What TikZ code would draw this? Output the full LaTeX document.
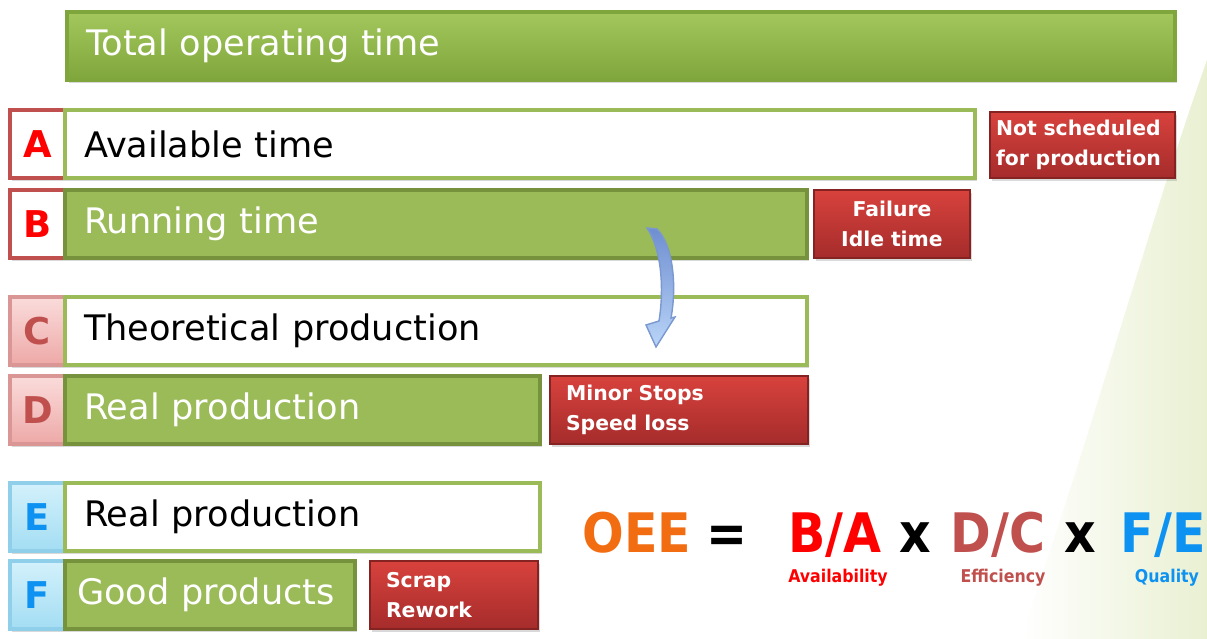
\documentclass[tikz,border=0pt]{standalone}
\usepackage{fontspec}
\setmainfont{DejaVu Sans}
\newfontfamily\condfont{DejaVu Sans Condensed}
\usetikzlibrary{shadows}

\definecolor{barGreen}{HTML}{9BBB59}
\definecolor{barEdge}{HTML}{76923C}
\definecolor{topGreenA}{HTML}{A3C75C}
\definecolor{topGreenB}{HTML}{7FA63C}
\definecolor{boxRed}{HTML}{C0504D}
\definecolor{redTop}{HTML}{D8423D}
\definecolor{redBot}{HTML}{A52C2B}
\definecolor{letRed}{HTML}{FF0000}
\definecolor{pinkTop}{HTML}{FADCDB}
\definecolor{pinkBot}{HTML}{EDA9A7}
\definecolor{cyanTop}{HTML}{D3F1FB}
\definecolor{cyanBot}{HTML}{A3DDF3}
\definecolor{cyanEdge}{HTML}{8FCFEA}
\definecolor{letBlue}{HTML}{0E92F2}
\definecolor{oeeOrange}{HTML}{F26D12}
\definecolor{arrTop}{HTML}{6F8ED0}
\definecolor{arrBot}{HTML}{B9D5F8}
\definecolor{arrEdge}{HTML}{7B98D0}
\definecolor{bgTint}{HTML}{E9F0D2}

\begin{document}
\begin{tikzpicture}[
  shad/.style={drop shadow={opacity=0.3, shadow xshift=0.5pt, shadow yshift=-0.9pt}},
  letbox/.style={shad, draw, line width=1.1pt, minimum width=0.55cm, minimum height=0.68cm,
    inner sep=0pt, outer sep=0pt, anchor=north west, font=\bfseries\fontsize{10.5}{12}\selectfont},
  wbar/.style={shad, draw=barGreen, line width=1.2pt, fill=white, minimum height=0.68cm,
    inner xsep=0.19cm, inner ysep=0pt, outer sep=0pt, anchor=north west, align=left,
    font=\fontsize{10}{12}\selectfont},
  gbar/.style={wbar, draw=barEdge, fill=barGreen, text=white},
  redbox/.style={shad, top color=redTop, bottom color=redBot, draw=redBot!80!black, line width=0.3pt,
    minimum height=0.68cm, inner xsep=0.16cm, inner ysep=0pt, outer sep=0pt, anchor=north west,
    text=white, font=\bfseries\fontsize{5.8}{8.4}\selectfont, align=left},
  big/.style={anchor=base, font=\condfont\bfseries\fontsize{15.5}{18}\selectfont},
  small/.style={anchor=base, font=\condfont\bfseries\fontsize{5}{6}\selectfont}
]
  \useasboundingbox (0,0) rectangle (12.07,-6.39);
  \shade[left color=white, right color=bgTint] (10.2,-6.39) .. controls (10.9,-4.4) and (11.5,-2.2) .. (12.07,-0.6) -- (12.07,-6.39) -- cycle;

  \node[gbar, top color=topGreenA, bottom color=topGreenB, draw=topGreenB, text width=10.70cm] (tot) at (0.67,-0.12) {Total operating time};

  \node[letbox, draw=boxRed, fill=white, text=letRed] (la) at (0.10,-1.10) {A};
  \node[wbar, text width=8.72cm] (ba) at (0.65,-1.10) {Available time};
  \node[redbox, text width=1.73cm, inner xsep=0.06cm, minimum height=0.66cm] (ns) at (9.90,-1.12) {Not scheduled\\for production};

  \node[letbox, draw=boxRed, fill=white, text=letRed] (lb) at (0.10,-1.90) {B};
  \node[gbar, text width=7.04cm] (bb) at (0.65,-1.90) {Running time};
  \node[redbox, text width=1.44cm, inner xsep=0.06cm, align=center] (fi) at (8.14,-1.90) {Failure\\Idle time};

  \node[letbox, draw=boxRed!60, top color=pinkTop, bottom color=pinkBot, text=boxRed] (lc) at (0.10,-2.97) {C};
  \node[wbar, text width=7.04cm] (bc) at (0.65,-2.97) {Theoretical production};

  \node[letbox, draw=boxRed!60, top color=pinkTop, bottom color=pinkBot, text=boxRed] (ld) at (0.10,-3.76) {D};
  \node[gbar, text width=4.37cm] (bd) at (0.65,-3.76) {Real production};
  \node[redbox, text width=2.26cm] (ms) at (5.50,-3.76) {Minor Stops\\Speed loss};

  \node[letbox, draw=cyanEdge, top color=cyanTop, bottom color=cyanBot, text=letBlue] (le) at (0.10,-4.83) {E};
  \node[wbar, text width=4.37cm] (be) at (0.65,-4.83) {Real production};

  \node[letbox, draw=cyanEdge, top color=cyanTop, bottom color=cyanBot, text=letBlue] (lf) at (0.10,-5.61) {F};
  \node[gbar, text width=2.66cm, inner xsep=0.12cm] (bf) at (0.65,-5.61) {Good products};
  \node[redbox, text width=1.36cm] (sr) at (3.70,-5.61) {Scrap\\Rework};

  \node[big, text=oeeOrange] (oee) at (6.37,-5.53) {OEE};
  \node[big] (eq) at (7.27,-5.53) {=};
  \node[big, text=letRed] (avl) at (8.35,-5.53) {B/A};
  \node[big] (x1) at (9.15,-5.53) {x};
  \node[big, text=boxRed] (eff) at (9.98,-5.53) {D/C};
  \node[big] (x2) at (10.80,-5.53) {x};
  \node[big, text=letBlue] (qua) at (11.63,-5.53) {F/E};
  \node[small, text=letRed] (tav) at (8.38,-5.83) {Availability};
  \node[small, text=boxRed] (tef) at (10.03,-5.83) {Efficiency};
  \node[small, text=letBlue] (tqu) at (11.67,-5.83) {Quality};

  \coordinate (atail) at (6.47,-2.28);
  \coordinate (ahead) at (6.56,-3.47);
  \filldraw[top color=arrTop, bottom color=arrBot, draw=arrEdge, line width=0.4pt]
    (atail) -- (6.57,-2.29) .. controls (6.73,-2.45) and (6.77,-2.85) .. (6.71,-3.18)
    -- (6.75,-3.17) -- (ahead) -- (6.46,-3.25) -- (6.59,-3.21)
    .. controls (6.64,-2.90) and (6.62,-2.50) .. (atail) -- cycle;
\end{tikzpicture}
\end{document}
